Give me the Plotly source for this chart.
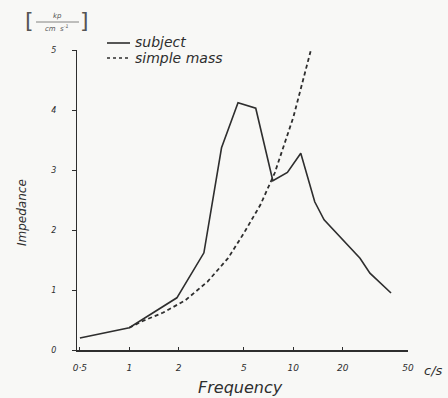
import plotly.graph_objects as go
import math

# ---- data ----
subject_freq = [0.5, 1.0, 1.95, 2.85, 3.65, 4.6, 5.9, 7.5, 9.2, 11.1, 13.5, 15.4, 25.5, 29.3, 39.4]
subject_z = [0.20, 0.37, 0.87, 1.62, 3.37, 4.12, 4.03, 2.82, 2.96, 3.28, 2.47, 2.17, 1.53, 1.28, 0.95]

mass_freq = [1.0, 1.2, 1.6, 2.2, 3.0, 4.0, 5.0, 6.3, 7.7, 10.0, 12.8]
mass_z = [0.37, 0.48, 0.62, 0.83, 1.14, 1.53, 1.95, 2.42, 2.95, 3.88, 5.0]

x_tickvals = [0.5, 1, 2, 5, 10, 20, 50]
x_ticktext = ["0·5", "1", "2", "5", "10", "20", "50"]
y_tickvals = [0, 1, 2, 3, 4, 5]

series_names = ["subject", "simple mass"]

INK = "#2e2e2e"
FONT = "DejaVu Sans"

# plot area in pixels (for paper coords)
L, R, T, B = 77, 408, 50, 350
W, H = 448, 398


def px(x):
    return (x - L) / (R - L)


def py(y):
    return (B - y) / (B - T)


fig = go.Figure()
fig.add_trace(go.Scatter(
    x=subject_freq, y=subject_z, mode="lines", name=series_names[0],
    line=dict(color=INK, width=1.6)))
fig.add_trace(go.Scatter(
    x=mass_freq, y=mass_z, mode="lines", name=series_names[1],
    line=dict(color=INK, width=1.8, dash="4px,3px")))


def note(text, x, y, size, xa="center", ya="middle", angle=0, color=INK, italic=True):
    return dict(text=text, x=px(x), y=py(y), xref="paper", yref="paper",
                xanchor=xa, yanchor=ya, showarrow=False, textangle=angle,
                font=dict(size=size, color=color, family=FONT,
                          style="italic" if italic else "normal"))


ann = [
    note("Frequency", 240, 387, 16),
    note("Impedance", 22, 213, 12, angle=-90),
    note("c/s", 433, 370, 13),
    note("[", 30, 21, 22, color="#555", italic=False),
    note("]", 84, 21, 22, color="#555", italic=False),
    note("kp", 57, 16, 7, color="#555"),
    note("cm&nbsp;&nbsp;s<sup>-1</sup>", 57, 28, 7, color="#555"),
    # manual legend text
    note(series_names[0], 133, 42, 14, xa="left"),
    note(series_names[1], 133, 57.5, 14, xa="left"),
]

shapes = [
    dict(type="line", xref="paper", yref="paper",
         x0=px(36), x1=px(79), y0=py(22), y1=py(22),
         line=dict(color="#666", width=0.8)),
    dict(type="line", xref="paper", yref="paper",
         x0=px(107), x1=px(130), y0=py(43), y1=py(43),
         line=dict(color=INK, width=1.6)),
    dict(type="line", xref="paper", yref="paper",
         x0=px(107), x1=px(130), y0=py(58), y1=py(58),
         line=dict(color=INK, width=1.6, dash="3px,3px")),
]

fig.update_layout(
    width=W, height=H,
    margin=dict(l=L, r=W - R, t=T, b=H - B),
    paper_bgcolor="#f8f8f6", plot_bgcolor="#f8f8f6",
    showlegend=False,
    annotations=ann,
    shapes=shapes,
)
fig.update_xaxes(type="log", range=[math.log10(0.48), math.log10(50)],
                 tickvals=x_tickvals, ticktext=x_ticktext,
                 showgrid=False, zeroline=False, showline=True, linecolor=INK, linewidth=1.5,
                 ticks="inside", ticklen=3, tickcolor=INK, ticklabelstandoff=8,
                 tickfont=dict(size=9, color=INK, family=FONT, style="italic"))
fig.update_yaxes(range=[0, 5], tickvals=y_tickvals,
                 showgrid=False, zeroline=False, showline=True, linecolor=INK, linewidth=1,
                 ticks="outside", ticklen=4, tickcolor=INK, ticklabelstandoff=14,
                 tickfont=dict(size=8, color=INK, family=FONT, style="italic"))

fig.write_html("out.html")
